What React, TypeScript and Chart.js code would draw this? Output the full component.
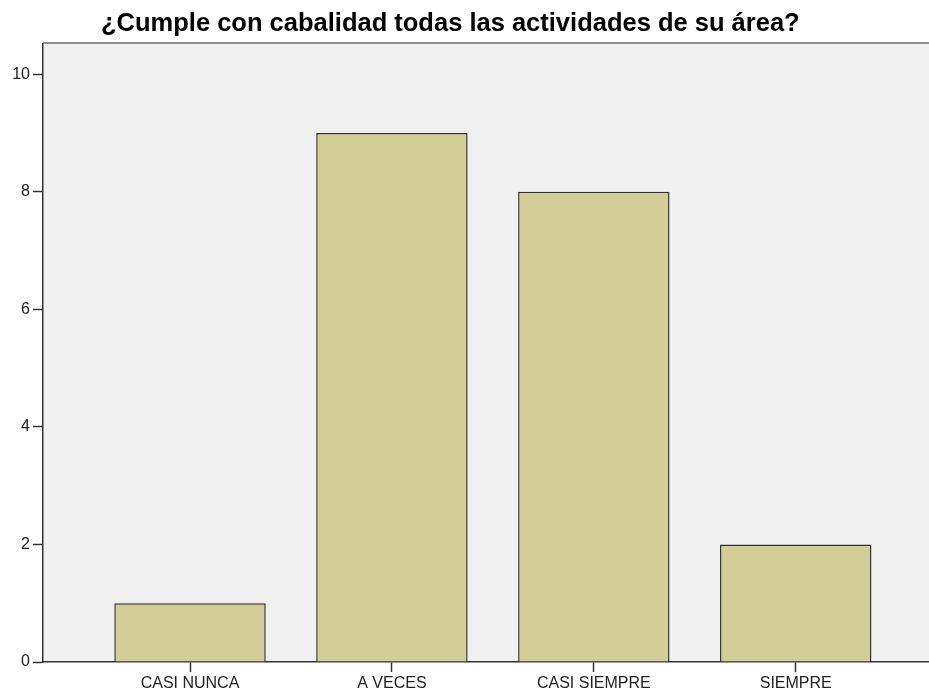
import React, { useEffect, useRef } from 'react';
import { Chart, registerables } from 'chart.js';

Chart.register(...registerables);

const TITLE = '¿Cumple con cabalidad todas las actividades de su área?';
const CATEGORIES = ['CASI NUNCA', 'A VECES', 'CASI SIEMPRE', 'SIEMPRE'];
const POSITIONS = [1, 2, 3, 4];
const COUNTS = [1, 9, 8, 2];
const Y_TICKS = [0, 2, 4, 6, 8, 10];

const FONT = "'Liberation Sans', Arial, sans-serif";

const plotBg = {
  id: 'plotBg',
  beforeDraw(chart: any) {
    const { ctx, chartArea: a } = chart;
    ctx.save();
    ctx.fillStyle = '#f0f0f0';
    ctx.fillRect(a.left, a.top, a.right - a.left, a.bottom - a.top);
    ctx.strokeStyle = '#8e8e8e';
    ctx.lineWidth = 2;
    ctx.beginPath();
    ctx.moveTo(a.left, a.top - 0.5);
    ctx.lineTo(a.right, a.top - 0.5);
    ctx.stroke();
    ctx.restore();
  },
};

export default function App() {
  const ref = useRef<HTMLCanvasElement | null>(null);

  useEffect(() => {
    if (!ref.current) return;
    const chart = new Chart(ref.current, {
      type: 'bar',
      data: {
        datasets: [
          {
            label: 'Recuento',
            data: COUNTS.map((y, i) => ({ x: POSITIONS[i], y })),
            backgroundColor: '#d3ce97',
            borderColor: '#333333',
            borderWidth: 1.5,
            categoryPercentage: 1,
            barPercentage: 0.75,
          },
        ],
      },
      options: {
        animation: false,
        responsive: false,
        layout: { padding: 0 },
        plugins: {
          legend: { display: false },
          tooltip: { enabled: false },
          title: {
            display: true,
            text: TITLE + '    ',
            color: '#000',
            font: { family: FONT, size: 25.5, weight: 'bold', lineHeight: 1.2 },
            padding: { top: 9, bottom: 4 },
          },
        },
        scales: {
          x: {
            type: 'linear',
            offset: false,
            min: 0.2719,
            max: 4.66,
            afterBuildTicks: (s: any) => {
              s.ticks = POSITIONS.map((v) => ({ value: v }));
            },
            afterFit: (s: any) => {
              s.height = 29;
            },
            grid: {
              offset: false,
              drawOnChartArea: false,
              drawTicks: true,
              tickLength: 10,
              tickColor: '#333',
              tickWidth: 1.5,
            },
            border: { display: true, color: '#333', width: 1.5 },
            ticks: {
              autoSkip: false,
              maxRotation: 0,
              padding: 2,
              color: '#222',
              font: { family: FONT, size: 16 },
              callback: (v: any) => CATEGORIES[POSITIONS.indexOf(Number(v))] ?? '',
            },
          },
          y: {
            min: 0,
            max: 10.52,
            afterBuildTicks: (s: any) => {
              s.ticks = Y_TICKS.map((v) => ({ value: v }));
            },
            afterFit: (s: any) => {
              s.width = 43;
            },
            grid: {
              drawOnChartArea: false,
              drawTicks: true,
              tickLength: 10,
              tickColor: '#333',
              tickWidth: 1.5,
            },
            border: { display: true, color: '#333', width: 1.5 },
            ticks: {
              padding: 3,
              color: '#222',
              font: { family: FONT, size: 16 },
              includeBounds: false,
            },
          },
        },
      },
      plugins: [plotBg],
    } as any);
    return () => chart.destroy();
  }, []);

  return (
    <div style={{ position: 'absolute', left: 0, top: 0, width: 929, height: 691, background: '#fff' }}>
      <canvas ref={ref} width={929} height={691} style={{ display: 'block' }} />
    </div>
  );
}
